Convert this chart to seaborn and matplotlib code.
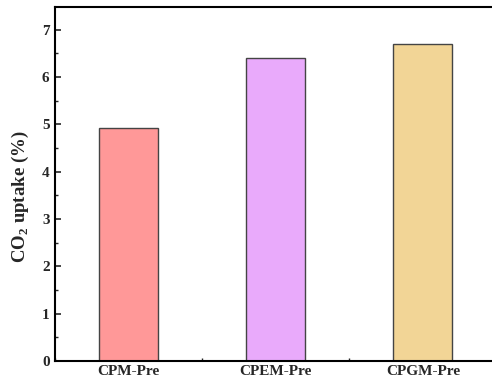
import matplotlib
matplotlib.use("Agg")
import matplotlib.pyplot as plt
import seaborn as sns
import pandas as pd
from matplotlib.ticker import MultipleLocator

categories = ["CPM-Pre", "CPEM-Pre", "CPGM-Pre"]
values = [4.92, 6.41, 6.70]
colors = ["#FF9898", "#E9AAFB", "#F2D596"]

sns.set_style("ticks")
plt.rcParams['font.family'] = ['Liberation Serif', 'DejaVu Serif']
plt.rcParams['font.weight'] = 'bold'
plt.rcParams['mathtext.fontset'] = 'custom'
plt.rcParams['mathtext.rm'] = 'Liberation Serif:bold'
plt.rcParams['mathtext.bf'] = 'Liberation Serif:bold'

df = pd.DataFrame({"cat": categories, "val": values})

fig = plt.figure(figsize=(4.92, 3.83), dpi=100)
ax = fig.add_axes([0.112, 0.057, 0.897, 0.925])
sns.barplot(data=df, x="cat", y="val", hue="cat", palette=colors, width=0.4,
            edgecolor="#444444", linewidth=1.0, legend=False, ax=ax, saturation=1)

ax.set_xlim(-0.5, 2.5)
ax.set_ylim(0, 7.48)
ax.yaxis.set_major_locator(MultipleLocator(1))
ax.yaxis.set_minor_locator(MultipleLocator(0.5))
ax.xaxis.set_minor_locator(MultipleLocator(0.5))
ax.tick_params(axis='both', which='major', direction='in', length=4, width=1.2, labelsize=11)
ax.tick_params(axis='both', which='minor', direction='in', length=2, width=1.0)
ax.tick_params(axis='x', labelsize=11, pad=3)
ax.tick_params(axis='y', pad=4)
for lab in ax.get_xticklabels() + ax.get_yticklabels():
    lab.set_fontweight('bold')
for s in ax.spines.values():
    s.set_linewidth(1.5)
    s.set_color('black')
ax.set_xlabel("")
ax.set_ylabel(r"CO$_2$ uptake (%)", fontsize=13.5, fontweight='bold')
ax.yaxis.set_label_coords(-0.055, 0.463)
fig.savefig("out.png", dpi=100)
